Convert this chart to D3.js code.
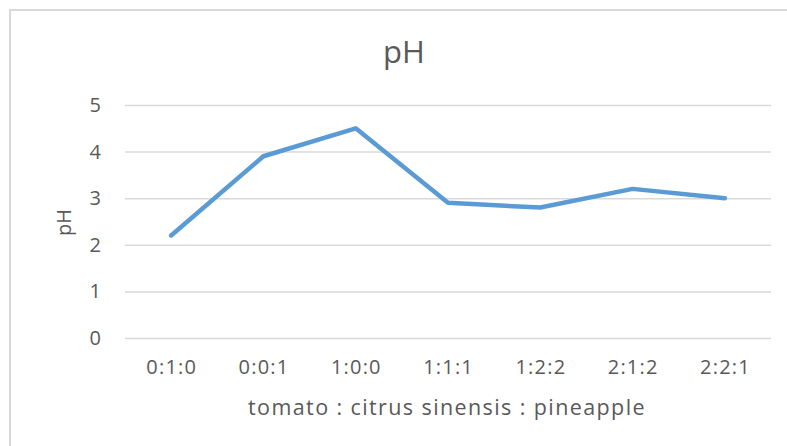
<!DOCTYPE html>
<html>
<head>
<meta charset="utf-8">
<script src="https://cdn.jsdelivr.net/npm/d3@7"></script>
<style>
  html, body { margin: 0; padding: 0; background: #fff; }
  svg { display: block; }
</style>
</head>
<body>
<script>
const categories = ["0:1:0", "0:0:1", "1:0:0", "1:1:1", "1:2:2", "2:1:2", "2:2:1"];
const phValues = [2.2, 3.9, 4.5, 2.9, 2.8, 3.2, 3.0];
const yTicks = [0, 1, 2, 3, 4, 5];
const chartTitle = "pH";
const yTitle = "pH";
const xTitle = "tomato : citrus sinensis : pineapple";

const W = 787, H = 446;
const plot = { left: 125, right: 771, top: 105, bottom: 338 };
const textColor = "#595959";
const fontFamily = "'Open Sans', 'Noto Sans', sans-serif";

const svg = d3.select("body").append("svg").attr("width", W).attr("height", H);

// chart border (left and top visible)
svg.append("path")
  .attr("d", `M10,${H} L10,10 L${W},10`)
  .attr("fill", "none").attr("stroke", "#d9d9d9").attr("stroke-width", 2);

const x = d3.scaleBand().domain(categories).range([plot.left, plot.right]);
const y = d3.scaleLinear().domain([0, 5]).range([plot.bottom, plot.top]);

// gridlines
const yAxis = d3.axisLeft(y).tickValues(yTicks).tickSize(-(plot.right - plot.left)).tickPadding(24).tickFormat(d3.format("d"));
const gy = svg.append("g").attr("transform", `translate(${plot.left},0)`).call(yAxis);
gy.select(".domain").remove();
gy.selectAll(".tick line").attr("stroke", "#d9d9d9").attr("stroke-width", 1.5);
gy.selectAll(".tick text").attr("fill", textColor).style("font-size", "20px").style("font-family", fontFamily);

// x axis
const xAxis = d3.axisBottom(x).tickSize(0).tickPadding(22);
const gx = svg.append("g").attr("transform", `translate(0,${plot.bottom})`).call(xAxis);
gx.select(".domain").remove();
gx.selectAll(".tick text").attr("fill", textColor).attr("dx", "0.6")
  .style("font-size", "20px").style("letter-spacing", "1.2px").style("font-family", fontFamily);

// line
const line = d3.line().x((d, i) => x(categories[i]) + x.bandwidth() / 2).y(d => y(d));
svg.append("path").datum(phValues)
  .attr("d", line)
  .attr("fill", "none").attr("stroke", "#5b9bd5").attr("stroke-width", 4.5)
  .attr("stroke-linejoin", "round").attr("stroke-linecap", "round");

// titles
svg.append("text").attr("x", 404).attr("y", 63).attr("text-anchor", "middle")
  .attr("fill", textColor).style("font-size", "31px").style("font-family", fontFamily).text(chartTitle);

svg.append("text").attr("transform", `translate(71,222.5) rotate(-90)`)
  .attr("text-anchor", "middle").attr("fill", textColor).style("font-size", "20px").style("font-family", fontFamily).text(yTitle);

svg.append("text").attr("x", 447).attr("y", 415).attr("text-anchor", "middle")
  .attr("fill", textColor).style("font-size", "21.5px").style("letter-spacing", "1.4px").style("font-family", fontFamily).text(xTitle);
</script>
</body>
</html>
